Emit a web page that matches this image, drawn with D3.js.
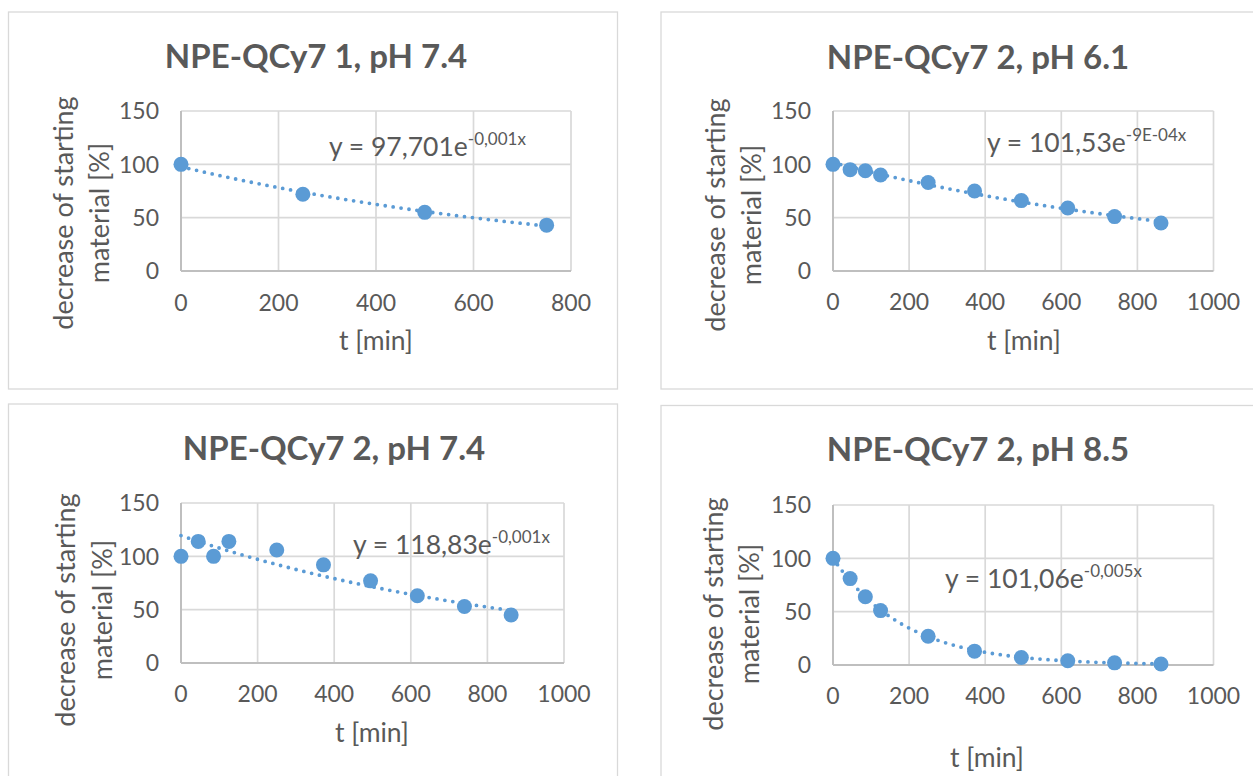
<!DOCTYPE html>
<html>
<head>
<meta charset="utf-8">
<script src="https://cdn.jsdelivr.net/npm/d3@7"></script>
<style>
  body { margin: 0; background: #fff; }
  svg { display: block; }
  text { font-family: Lato, "Open Sans", sans-serif; fill: #595959; }
</style>
</head>
<body>
<script>
// ---- data ----
const titles = ['NPE-QCy7 1, pH 7.4', 'NPE-QCy7 2, pH 6.1', 'NPE-QCy7 2, pH 7.4', 'NPE-QCy7 2, pH 8.5'];
const t1 = [0, 250, 500, 750];
const t2 = [0, 45, 85, 125, 250, 372, 495, 617, 740, 862];
const y1_74 = [100, 72, 55, 43];
const y2_61 = [100, 95, 94, 90, 83, 75, 66, 59, 51, 45];
const y2_74 = [100, 114, 100, 114, 106, 92, 77, 63, 53, 45];
const y2_85 = [100, 81, 64, 51, 27, 13, 7, 4, 2, 1];
const eqCoef = ['97,701', '101,53', '118,83', '101,06'];
const eqExp = ['-0,001x', '-9E-04x', '-0,001x', '-0,005x'];
const yTicks = [0, 50, 100, 150];
const xTicks1 = [0, 200, 400, 600, 800];
const xTicks2 = [0, 200, 400, 600, 800, 1000];

const W = 1253, H = 776;
const BLUE = '#5B9BD5';

// panel layout (page pixels)
const panels = [
  { t: t1, y: y1_74, xt: xTicks1, box: [8.5, 12, 609, 377],
    plot: { l: 181, r: 571, t: 111, b: 271 }, title: [316, 68],
    yTitle: [64, 100, 213], xTitle: [376, 350], xTickY: 311, eq: [329, 156] },
  { t: t2, y: y2_61, xt: xTicks2, box: [661, 12, 620, 377],
    plot: { l: 833, r: 1213.5, t: 111, b: 271 }, title: [978, 69],
    yTitle: [716, 752, 215], xTitle: [1024, 350], xTickY: 310, eq: [987, 152] },
  { t: t2, y: y2_74, xt: xTicks2, box: [8.5, 404, 609, 400],
    plot: { l: 181, r: 564, t: 503, b: 663 }, title: [334, 460],
    yTitle: [66, 103, 610], xTitle: [372, 742], xTickY: 702, eq: [353, 554] },
  { t: t2, y: y2_85, xt: xTicks2, box: [661, 405.5, 620, 400],
    plot: { l: 833, r: 1213.5, t: 505, b: 665 }, title: [978, 461],
    yTitle: [714, 750, 614], xTitle: [987, 767], xTickY: 704, eq: [945, 588] }
];

// exponential trendline, least squares on ln(y) like Excel
function expFit(xs, ys) {
  const ly = ys.map(Math.log);
  const mx = d3.mean(xs), my = d3.mean(ly);
  const b = d3.sum(xs, (x, i) => (x - mx) * (ly[i] - my)) / d3.sum(xs, x => (x - mx) ** 2);
  return { a: Math.exp(my - b * mx), b };
}

const svg = d3.select('body').append('svg')
  .attr('width', W).attr('height', H);

panels.forEach((p, k) => {
  const g = svg.append('g');

  g.append('rect')
    .attr('x', p.box[0]).attr('y', p.box[1])
    .attr('width', p.box[2]).attr('height', p.box[3])
    .attr('fill', '#fff').attr('stroke', '#D9D9D9').attr('stroke-width', 1.3);

  const x = d3.scaleLinear().domain([0, d3.max(p.xt)]).range([p.plot.l, p.plot.r]);
  const y = d3.scaleLinear().domain([0, 150]).range([p.plot.b, p.plot.t]);

  // gridlines
  g.append('g').selectAll('line').data(yTicks.slice(1)).join('line')
    .attr('x1', p.plot.l).attr('x2', p.plot.r)
    .attr('y1', d => y(d)).attr('y2', d => y(d))
    .attr('stroke', '#D9D9D9').attr('stroke-width', 1.7);
  g.append('g').selectAll('line').data(p.xt.slice(1)).join('line')
    .attr('y1', p.plot.t).attr('y2', p.plot.b)
    .attr('x1', d => x(d)).attr('x2', d => x(d))
    .attr('stroke', '#D9D9D9').attr('stroke-width', 1.7);

  // axis lines
  g.append('line').attr('x1', x(0)).attr('x2', x(0)).attr('y1', p.plot.t).attr('y2', p.plot.b)
    .attr('stroke', '#BFBFBF').attr('stroke-width', 2);
  g.append('line').attr('x1', p.plot.l).attr('x2', p.plot.r).attr('y1', y(0)).attr('y2', y(0))
    .attr('stroke', '#BFBFBF').attr('stroke-width', 2);

  // tick labels
  g.append('g').selectAll('text').data(yTicks).join('text')
    .attr('x', p.plot.l - 22).attr('y', d => y(d)).attr('dy', '0.36em')
    .attr('text-anchor', 'end').attr('font-size', 23).text(d => d);
  g.append('g').selectAll('text').data(p.xt).join('text')
    .attr('x', d => x(d)).attr('y', p.xTickY)
    .attr('text-anchor', 'middle').attr('font-size', 23).text(d => d);

  // titles
  g.append('text').attr('x', p.title[0]).attr('y', p.title[1])
    .attr('text-anchor', 'middle').attr('font-size', 33).attr('font-weight', 700)
    .text(titles[k]);
  g.append('text').attr('x', p.xTitle[0]).attr('y', p.xTitle[1])
    .attr('text-anchor', 'middle').attr('font-size', 26.5).text('t [min]');
  [['decrease of starting', p.yTitle[0]], ['material [%]', p.yTitle[1]]].forEach(([s, cx]) => {
    g.append('text')
      .attr('transform', `translate(${cx},${p.yTitle[2]}) rotate(-90)`)
      .attr('dy', '0.35em').attr('text-anchor', 'middle').attr('font-size', 27).text(s);
  });

  // trendline
  const fit = expFit(p.t, p.y);
  const xs = d3.range(0, d3.max(p.t) + 0.1, 5);
  g.append('path')
    .datum(xs)
    .attr('d', d3.line().x(d => x(d)).y(d => y(fit.a * Math.exp(fit.b * d))))
    .attr('fill', 'none').attr('stroke', BLUE).attr('stroke-width', 3.8)
    .attr('stroke-linecap', 'round').attr('stroke-dasharray', '0,8');

  // markers
  g.append('g').selectAll('circle').data(p.t).join('circle')
    .attr('cx', d => x(d)).attr('cy', (d, i) => y(p.y[i])).attr('r', 7.5)
    .attr('fill', BLUE);

  // equation label
  const eq = g.append('text').attr('x', p.eq[0]).attr('y', p.eq[1]).attr('font-size', 26.5);
  eq.append('tspan').text(`y = ${eqCoef[k]}e`);
  eq.append('tspan').attr('dy', -11).attr('font-size', 17).text(eqExp[k]);
});
</script>
</body>
</html>
